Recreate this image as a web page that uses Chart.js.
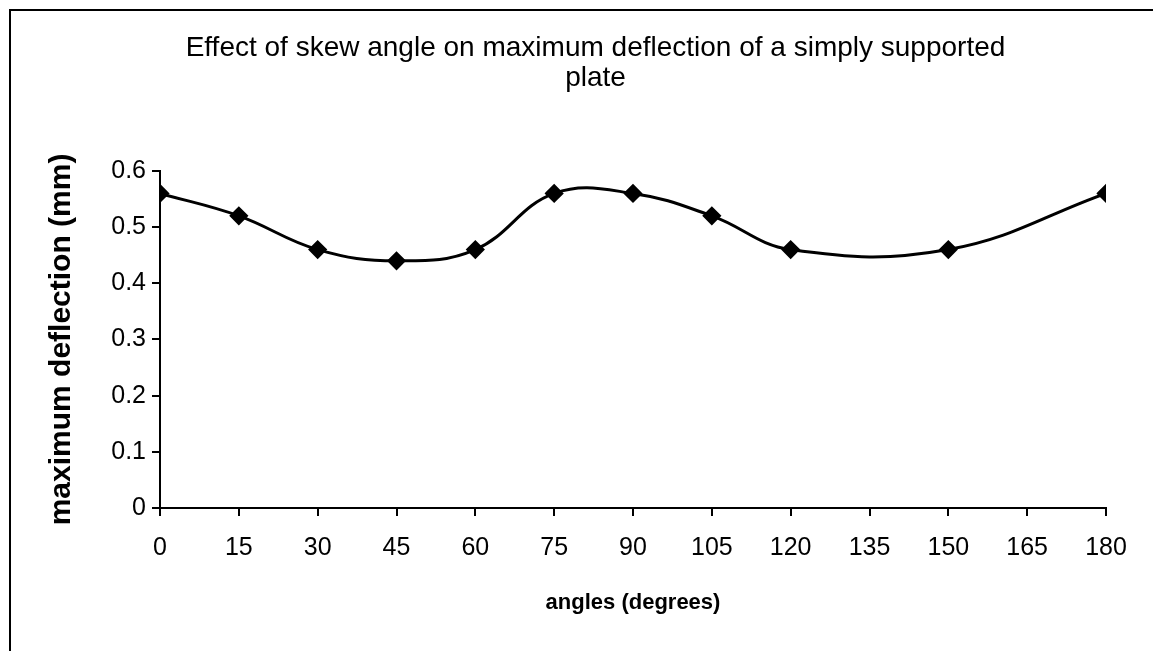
<!DOCTYPE html>
<html>
<head>
<meta charset="utf-8">
<script src="https://cdn.jsdelivr.net/npm/chart.js@4.4.1/dist/chart.umd.min.js"></script>
<style>
  html, body { margin: 0; padding: 0; background: #fff; overflow: hidden; }
  #frame { position: absolute; left: 9px; top: 9px; width: 1200px; height: 700px;
           border-top: 2px solid #000; border-left: 2px solid #000; }
  #wrap { position: absolute; left: 0; top: 0; width: 1153px; height: 651px; }
</style>
</head>
<body>
<div id="frame"></div>
<div id="wrap"><canvas id="grafico"></canvas></div>
<script>
// skew angles (degrees) and the maximum deflection (mm) measured at each
const angulos = [0, 15, 30, 45, 60, 75, 90, 105, 120, 150, 180]
const deflexion = [0.56, 0.52, 0.46, 0.44, 0.46, 0.56, 0.56, 0.52, 0.46, 0.46, 0.56]
const titulo = ["Effect of skew angle on maximum deflection of a simply supported", "plate"]

const puntos = angulos.map((a, i) => ({ x: a, y: deflexion[i] }))
const fuente = "'Liberation Sans', Arial, sans-serif"

const config = {
  type: 'line',
  data: {
    datasets: [{
      data: puntos,
      borderColor: '#000',
      backgroundColor: '#000',
      borderWidth: 3,
      tension: 0.4,
      pointStyle: 'rectRot',
      pointRadius: 7.5,
      pointHoverRadius: 7.5
    }]
  },
  options: {
    responsive: true,
    maintainAspectRatio: false,
    animation: false,
    layout: { padding: { left: 38, right: 0, top: 0, bottom: 0 } },
    plugins: {
      legend: { display: false },
      tooltip: { enabled: false },
      title: {
        display: true,
        text: titulo,
        color: '#000',
        font: { family: fuente, size: 28, weight: 'normal', lineHeight: 1.07 },
        padding: { top: 33, bottom: 78 }
      }
    },
    scales: {
      x: {
        type: 'linear',
        min: 0,
        max: 180,
        // fixed band under the plot, room on the right for the last label
        afterFit: (scale) => { scale.height = 143; scale.paddingRight = 47 },
        border: { color: '#000', width: 2 },
        grid: { drawOnChartArea: false, tickLength: 8, color: '#000', lineWidth: 2 },
        ticks: { stepSize: 15, color: '#000', padding: 17, font: { family: fuente, size: 25 } },
        title: {
          display: true,
          text: 'angles (degrees)',
          color: '#000',
          font: { family: fuente, size: 22, weight: 'bold', lineHeight: 1.2 },
          padding: { top: 35, bottom: 35 }
        }
      },
      y: {
        min: 0,
        max: 0.6,
        afterFit: (scale) => { scale.width = 122 },
        border: { color: '#000', width: 2 },
        grid: { drawOnChartArea: false, tickLength: 8, color: '#000', lineWidth: 2 },
        ticks: { stepSize: 0.1, color: '#000', padding: 6, font: { family: fuente, size: 25 } },
        title: {
          display: true,
          text: 'maximum deflection (mm)',
          color: '#000',
          font: { family: fuente, size: 30, weight: 'bold', lineHeight: 1.2 },
          padding: { top: 6, bottom: 6 }
        }
      }
    }
  }
}

const chart = new Chart(document.getElementById('grafico'), config)
</script>
</body>
</html>
